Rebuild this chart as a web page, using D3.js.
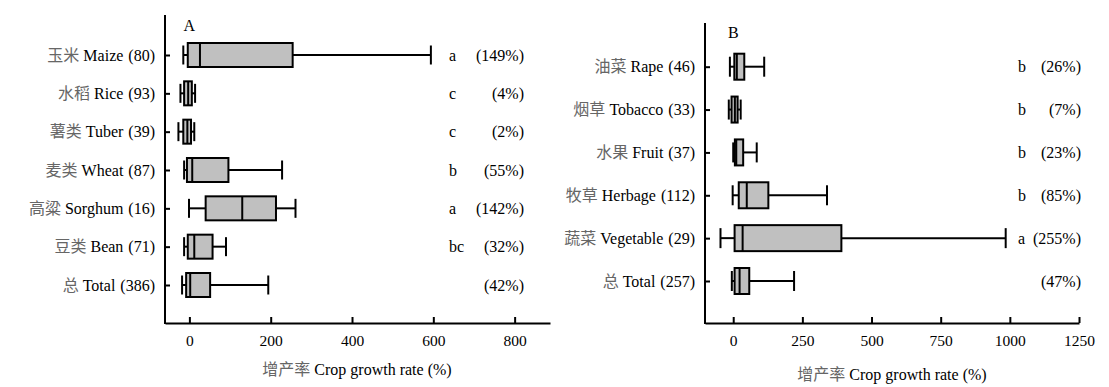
<!DOCTYPE html>
<html>
<head>
<meta charset="utf-8">
<script src="https://cdn.jsdelivr.net/npm/d3@7"></script>
<style>
  body { margin: 0; background: #fff; }
</style>
</head>
<body>
<svg id="chart" width="1109" height="387"></svg>
<script>
// panel A: field crops
const cnA = ["玉米", "水稻", "薯类", "麦类", "高粱", "豆类", "总"];
const enA = ["Maize", "Rice", "Tuber", "Wheat", "Sorghum", "Bean", "Total"];
const nA = [80, 93, 39, 87, 16, 71, 386];
const minA = [-15, -22, -27, -13, -1, -13, -18];
const q1A = [-4, -13, -15, -6, 40, -4, -8];
const medA = [26, -3, -5, 7, 130, 12, 2];
const q3A = [254, 6, 4, 96, 213, 57, 51];
const maxA = [594, 14, 12, 228, 261, 90, 194];
const letterA = ["a", "c", "c", "b", "a", "bc", ""];
const meanA = ["149%", "4%", "2%", "55%", "142%", "32%", "42%"];
const ticksA = [0, 200, 400, 600, 800];

// panel B: cash crops
const cnB = ["油菜", "烟草", "水果", "牧草", "蔬菜", "总"];
const enB = ["Rape", "Tobacco", "Fruit", "Herbage", "Vegetable", "Total"];
const nB = [46, 33, 37, 112, 29, 257];
const minB = [-12, -16, 0, -2, -46, -5];
const q1B = [4, -6, 6, 20, 5, 5];
const medB = [13, 6, 11, 49, 34, 23];
const q3B = [40, 16, 36, 127, 391, 58];
const maxB = [112, 27, 85, 339, 985, 220];
const letterB = ["b", "b", "b", "b", "a", ""];
const meanB = ["26%", "7%", "23%", "85%", "255%", "47%"];
const ticksB = [0, 250, 500, 750, 1000, 1250];

const SERIF = "'Liberation Serif', 'Times New Roman', serif";
const CJK = "'Noto Sans CJK SC', sans-serif";

const svg = d3.select("#chart");

function drawPanel(p) {
    const rows = p.en.map((e, i) => ({
        cn: p.cn[i], en: e, n: p.n[i],
        min: p.min[i], q1: p.q1[i], med: p.med[i], q3: p.q3[i], max: p.max[i],
        letter: p.letter[i], mean: p.mean[i]
    }));

    const x = d3.scaleLinear().domain(p.xDomain).range([p.left, p.right]);
    const y = d3.scalePoint().domain(d3.range(rows.length)).range([p.firstRow, p.lastRow]);

    const g = svg.append("g").attr("font-family", SERIF);

    // x axis
    const xAxis = g.append("g")
        .attr("transform", `translate(0,${p.bottom})`)
        .call(d3.axisBottom(x).tickValues(p.ticks).tickFormat(d3.format("d"))
            .tickSizeInner(-6).tickSizeOuter(0).tickPadding(12));
    xAxis.attr("font-family", SERIF);
    xAxis.select(".domain").attr("stroke-width", 2);
    xAxis.selectAll(".tick line").attr("stroke-width", 2);
    xAxis.selectAll(".tick text").attr("font-size", 15.5).attr("fill", "#000");

    // y axis
    g.append("line")
        .attr("x1", p.left).attr("x2", p.left)
        .attr("y1", p.top).attr("y2", p.bottom + 1)
        .attr("stroke", "#000").attr("stroke-width", 2);
    const yAxis = g.append("g")
        .attr("transform", `translate(${p.left},0)`)
        .call(d3.axisLeft(y).tickSize(-5).tickSizeOuter(0).tickFormat(() => ""));
    yAxis.select(".domain").remove();
    yAxis.selectAll(".tick line").attr("stroke-width", 2);

    // row labels
    const lab = g.selectAll(".rowlab").data(rows).join("text")
        .attr("class", "rowlab")
        .attr("x", p.left - 10)
        .attr("y", (d, i) => y(i))
        .attr("dy", "0.35em")
        .attr("text-anchor", "end")
        .attr("font-family", SERIF)
        .attr("font-size", 16);
    lab.append("tspan").attr("font-family", CJK).attr("fill", "#666").text(d => d.cn);
    lab.append("tspan").attr("fill", "#000").text(d => " " + d.en);
    lab.append("tspan").attr("fill", "#000").attr("dx", 5).text(d => "(" + d.n + ")");

    const bh = p.boxH, ch = p.capH;
    const box = g.selectAll(".box").data(rows).join("g")
        .attr("class", "box")
        .attr("transform", (d, i) => `translate(0,${y(i)})`);

    // whiskers
    box.append("line")
        .attr("x1", d => x(d.min)).attr("x2", d => x(d.q1))
        .attr("stroke", "#000").attr("stroke-width", 2);
    box.append("line")
        .attr("x1", d => x(d.q3)).attr("x2", d => x(d.max))
        .attr("stroke", "#000").attr("stroke-width", 2);
    box.append("line")
        .attr("x1", d => x(d.min)).attr("x2", d => x(d.min))
        .attr("y1", -ch / 2).attr("y2", ch / 2)
        .attr("stroke", "#000").attr("stroke-width", 2);
    box.append("line")
        .attr("x1", d => x(d.max)).attr("x2", d => x(d.max))
        .attr("y1", -ch / 2).attr("y2", ch / 2)
        .attr("stroke", "#000").attr("stroke-width", 2);

    // box and median
    box.append("rect")
        .attr("x", d => x(d.q1))
        .attr("width", d => x(d.q3) - x(d.q1))
        .attr("y", -bh / 2).attr("height", bh)
        .attr("fill", "#c0c0c0").attr("stroke", "#000").attr("stroke-width", 2);
    box.append("line")
        .attr("x1", d => x(d.med)).attr("x2", d => x(d.med))
        .attr("y1", -bh / 2).attr("y2", bh / 2)
        .attr("stroke", "#000").attr("stroke-width", 2);

    // significance letters and mean growth
    g.selectAll(".letter").data(rows).join("text")
        .attr("class", "letter")
        .attr("x", p.letterX)
        .attr("y", (d, i) => y(i))
        .attr("dy", "0.35em")
        .attr("font-family", SERIF)
        .attr("font-size", 16)
        .text(d => d.letter);
    g.selectAll(".mean").data(rows).join("text")
        .attr("class", "mean")
        .attr("x", p.meanX)
        .attr("y", (d, i) => y(i))
        .attr("dy", "0.35em")
        .attr("text-anchor", "end")
        .attr("font-family", SERIF)
        .attr("font-size", 16)
        .text(d => "(" + d.mean + ")");

    // panel tag
    g.append("text")
        .attr("x", x(0))
        .attr("y", p.tagY)
        .attr("text-anchor", "middle")
        .attr("font-family", SERIF)
        .attr("font-size", 16)
        .text(p.tag);

    // axis title
    const t = g.append("text")
        .attr("x", p.titleX)
        .attr("y", p.titleY)
        .attr("text-anchor", "middle")
        .attr("font-family", SERIF)
        .attr("font-size", 16);
    t.append("tspan").attr("font-family", CJK).attr("fill", "#666").text("增产率");
    t.append("tspan").attr("fill", "#000").text(" Crop growth rate (%)");
}

drawPanel({
    cn: cnA, en: enA, n: nA, min: minA, q1: q1A, med: medA, q3: q3A, max: maxA,
    letter: letterA, mean: meanA, ticks: ticksA,
    xDomain: [-60, 887], left: 165, right: 550, top: 15, bottom: 323,
    firstRow: 55, lastRow: 285, boxH: 24, capH: 19,
    letterX: 449, meanX: 524, tag: "A", tagY: 31, titleX: 357, titleY: 375
});

drawPanel({
    cn: cnB, en: enB, n: nB, min: minB, q1: q1B, med: medB, q3: q3B, max: maxB,
    letter: letterB, mean: meanB, ticks: ticksB,
    xDomain: [-102, 1250], left: 705, right: 1079, top: 23, bottom: 323,
    firstRow: 66.7, lastRow: 281, boxH: 26, capH: 20,
    letterX: 1018, meanX: 1081, tag: "B", tagY: 38, titleX: 892, titleY: 380
});
</script>
</body>
</html>
